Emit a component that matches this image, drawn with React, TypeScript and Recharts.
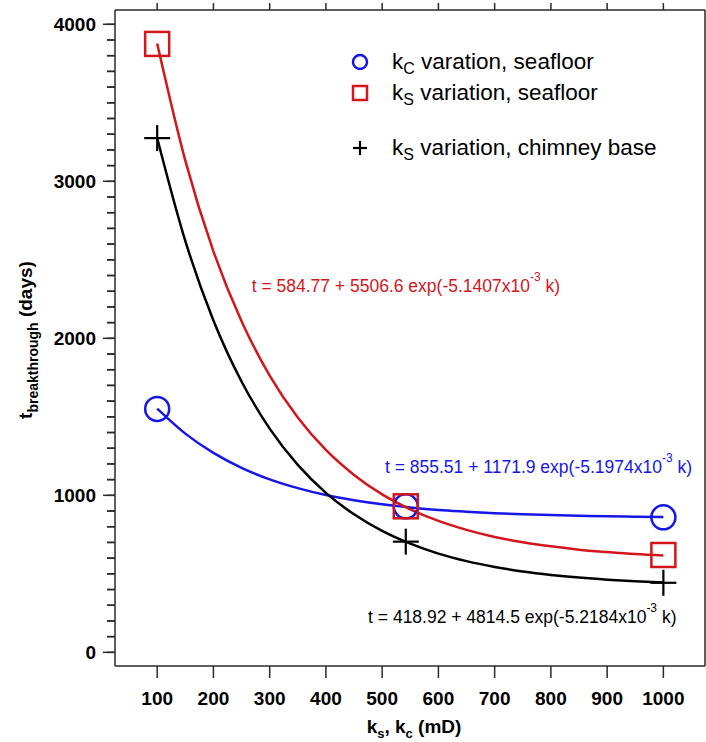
import React from "react";
import { ComposedChart, Line, Scatter, XAxis, YAxis, ReferenceDot, ReferenceLine, Label } from "recharts";

// permeability grid used for the fitted curves
const kGrid = [100, 150, 200, 250, 300, 350, 400, 450, 500, 550, 600, 650, 700, 750, 800, 850, 900, 950, 1000];
const fitKcSeafloor = [1552, 1393, 1270, 1175, 1102, 1046, 1002, 969, 943, 923, 907, 896, 886, 879, 874, 870, 866, 864, 862];
const fitKsSeafloor = [3878, 3132, 2554, 2108, 1763, 1496, 1289, 1130, 1006, 911, 837, 780, 735, 701, 675, 654, 639, 626, 617];
const fitKsChimney = [3276, 2620, 2114, 1725, 1425, 1194, 1016, 879, 773, 692, 629, 581, 544, 515, 493, 476, 463, 453, 445];

// simulated breakthrough times
const kRuns = [100, 542, 1000];
const tKcSeafloor = [1550, 930, 860];
const tKsSeafloor = [3875, 930, 620];
const tKsChimney = [3275, 705, 443];

const xTicks = [100, 200, 300, 400, 500, 600, 700, 800, 900, 1000];
const yTicks = Array.from({ length: 41 }, (_, i) => i * 100);

const X_DOMAIN = [25, 1074];
const Y_DOMAIN = [-87, 4091];

const RED = "#d3161c";
const BLUE = "#1616e8";
const AXIS = "#2a2a2a";
const FONT = "'Liberation Sans', Arial, sans-serif";

const toRows = (ks: number[], ts: number[]) => ks.map((k, i) => ({ k, t: ts[i] }));

const SquareMark = (p: any) => (
  <rect x={p.cx - 12} y={p.cy - 12} width={24} height={24} fill="none" stroke={RED} strokeWidth={2.5} />
);
const CircleMark = (p: any) => <circle cx={p.cx} cy={p.cy} r={12} fill="none" stroke={BLUE} strokeWidth={2.5} />;
const PlusMark = (p: any) => (
  <g stroke="#000" strokeWidth={2.2}>
    <line x1={p.cx - 13} y1={p.cy} x2={p.cx + 13} y2={p.cy} />
    <line x1={p.cx} y1={p.cy - 13} x2={p.cx} y2={p.cy + 13} />
  </g>
);

// p.x sits at the outer end of the 8px tick line; major ticks get 4px more and a label
const renderYTick = (p: any) => {
  const v = Math.round(p.payload.value);
  const major = v % 1000 === 0;
  return (
    <g>
      <line x1={major ? p.x - 4 : p.x} y1={p.y} x2={p.x + 8} y2={p.y} stroke={AXIS} strokeWidth={1.5} />
      {major && (
        <text x={p.x - 11} y={p.y} dy="0.36em" textAnchor="end" fontSize={19} fontWeight="bold" fontFamily={FONT} fill="#000">
          {v}
        </text>
      )}
    </g>
  );
};

const equation = (a: string, b: string, c: string, color: string) => (p: any) => (
  <text x={p.viewBox.x} y={p.viewBox.y} fontSize={17.5} fontFamily={FONT} fill={color}>
    <tspan>{`t = ${a} + ${b} exp(-${c}x10`}</tspan>
    <tspan dy={-11} fontSize={12}>-3</tspan>
    <tspan dy={11}> k)</tspan>
  </text>
);

const legendRows = [
  { sub: "C", text: " varation, seafloor", mark: "circle" },
  { sub: "S", text: " variation, seafloor", mark: "square" },
  { sub: "S", text: " variation, chimney base", mark: "plus" },
];
const legendY = [22, 53, 108];

export default function App() {
  return (
    <div style={{ position: "absolute", left: 0, top: 0, width: 706, height: 742, background: "#fff" }}>
      <ComposedChart width={706} height={742} margin={{ top: 10, right: 1, bottom: 0, left: 0 }}>
        <XAxis
          xAxisId="b"
          dataKey="k"
          type="number"
          domain={X_DOMAIN}
          allowDataOverflow
          ticks={xTicks}
          height={76}
          tickSize={12}
          tickMargin={14}
          stroke={AXIS}
          strokeWidth={1.5}
          tick={{ fontSize: 19, fontWeight: "bold", fill: "#000", fontFamily: FONT }}
        >
          <Label
            content={(p: any) => (
              <text
                x={p.viewBox.x + p.viewBox.width / 2 + 4}
                y={p.viewBox.y + 67}
                textAnchor="middle"
                fontSize={19}
                fontWeight="bold"
                fontFamily={FONT}
                fill="#000"
              >
                <tspan>k</tspan>
                <tspan dy={5} fontSize={13}>s</tspan>
                <tspan dy={-5}>, k</tspan>
                <tspan dy={5} fontSize={13}>c</tspan>
                <tspan dy={-5}> (mD)</tspan>
              </text>
            )}
          />
        </XAxis>
        <YAxis
          yAxisId="l"
          dataKey="t"
          type="number"
          domain={Y_DOMAIN}
          allowDataOverflow
          ticks={yTicks}
          interval={0}
          width={115}
          tickSize={8}
          tickMargin={0}
          stroke={AXIS}
          strokeWidth={1.5}
          tick={renderYTick}
        >
          <Label
            content={(p: any) => {
              const cx = 32;
              const cy = p.viewBox.y + p.viewBox.height / 2 + 2;
              return (
                <text
                  x={cx}
                  y={cy}
                  transform={`rotate(-90, ${cx}, ${cy})`}
                  textAnchor="middle"
                  fontSize={19}
                  fontWeight="bold"
                  fontFamily={FONT}
                  fill="#000"
                >
                  <tspan>t</tspan>
                  <tspan dy={6} fontSize={14}>breakthrough</tspan>
                  <tspan dy={-6}> (days)</tspan>
                </text>
              );
            }}
          />
        </YAxis>

        {/* top and right edges of the frame, and the top x ticks */}
        <ReferenceLine xAxisId="b" yAxisId="l" y={Y_DOMAIN[1]} stroke={AXIS} strokeWidth={1.5} ifOverflow="visible" />
        <ReferenceLine xAxisId="b" yAxisId="l" x={X_DOMAIN[1]} stroke={AXIS} strokeWidth={1.5} ifOverflow="visible" />
        {xTicks.map((v) => (
          <ReferenceLine
            key={v}
            xAxisId="b"
            yAxisId="l"
            ifOverflow="visible"
            segment={[
              { x: v, y: Y_DOMAIN[1] },
              { x: v, y: 4135 },
            ]}
            stroke={AXIS}
            strokeWidth={1.5}
          />
        ))}

        <Line xAxisId="b" yAxisId="l" data={toRows(kGrid, fitKcSeafloor)} dataKey="t" type="monotone" stroke={BLUE} strokeWidth={2.5} dot={false} isAnimationActive={false} />
        <Line xAxisId="b" yAxisId="l" data={toRows(kGrid, fitKsChimney)} dataKey="t" type="monotone" stroke="#000" strokeWidth={2.5} dot={false} isAnimationActive={false} />
        <Line xAxisId="b" yAxisId="l" data={toRows(kGrid, fitKsSeafloor)} dataKey="t" type="monotone" stroke={RED} strokeWidth={2.5} dot={false} isAnimationActive={false} />

        <Scatter xAxisId="b" yAxisId="l" data={toRows(kRuns, tKcSeafloor)} dataKey="t" shape={CircleMark} isAnimationActive={false} />
        <Scatter xAxisId="b" yAxisId="l" data={toRows(kRuns, tKsSeafloor)} dataKey="t" shape={SquareMark} isAnimationActive={false} />
        <Scatter xAxisId="b" yAxisId="l" data={toRows(kRuns, tKsChimney)} dataKey="t" shape={PlusMark} isAnimationActive={false} />

        <ReferenceDot xAxisId="b" yAxisId="l" x={268} y={2295} r={0} stroke="none" fill="none" label={equation("584.77", "5506.6", "5.1407", RED)} />
        <ReferenceDot xAxisId="b" yAxisId="l" x={505} y={1142} r={0} stroke="none" fill="none" label={equation("855.51", "1171.9", "5.1974", BLUE)} />
        <ReferenceDot xAxisId="b" yAxisId="l" x={475} y={187} r={0} stroke="none" fill="none" label={equation("418.92", "4814.5", "5.2184", "#000")} />
      </ComposedChart>

      <div style={{ position: "absolute", left: 340, top: 40, width: 366, height: 130 }}>
        <svg width={366} height={130}>
          {legendRows.map((r, i) => {
            const y = legendY[i];
            return (
              <g key={i}>
                {r.mark === "circle" && <circle cx={20} cy={y} r={7} fill="none" stroke={BLUE} strokeWidth={2.5} />}
                {r.mark === "square" && <rect x={13} y={y - 7} width={14} height={14} fill="none" stroke={RED} strokeWidth={2.5} />}
                {r.mark === "plus" && (
                  <g stroke="#000" strokeWidth={2.2}>
                    <line x1={13} y1={y} x2={27} y2={y} />
                    <line x1={20} y1={y - 7} x2={20} y2={y + 7} />
                  </g>
                )}
                <text x={52} y={y + 7} fontSize={22.5} fontFamily={FONT} fill="#000">
                  <tspan>k</tspan>
                  <tspan dy={5} fontSize={16}>{r.sub}</tspan>
                  <tspan dy={-5}>{r.text}</tspan>
                </text>
              </g>
            );
          })}
        </svg>
      </div>
    </div>
  );
}
